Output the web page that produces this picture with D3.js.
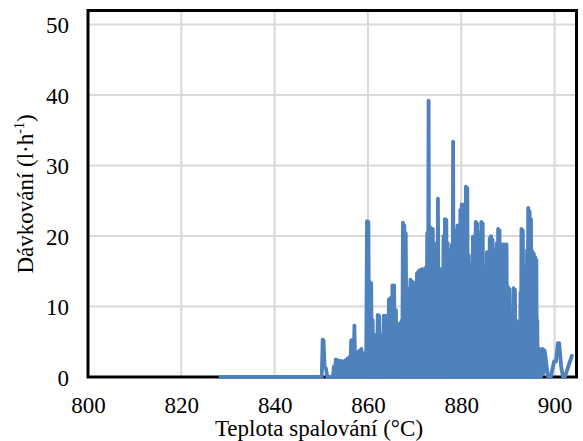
<!DOCTYPE html>
<html>
<head>
<meta charset="utf-8">
<script src="https://cdn.jsdelivr.net/npm/d3@7/dist/d3.min.js"></script>
<style>
html,body{margin:0;padding:0;background:#fff;}
svg{display:block;}
</style>
</head>
<body>
<svg id="chart" width="583" height="441"></svg>
<script>
// Tick values
const xTicks = [800, 820, 840, 860, 880, 900];
const yTicks = [0, 10, 20, 30, 40, 50];
const xTitle = "Teplota spalování (°C)";
const yTitleMain = "Dávkování (l·h";
const yTitleSup = "-1";
const yTitleEnd = ")";

// Series: combustion temperature (°C) and dosing (l·h-1), in recorded order
const temperature = [
  828.4, 850.1, 850.3, 850.5, 850.7, 851.0, 851.3, 852.5,
  852.7, 852.9, 853.1, 853.3, 853.5, 853.7, 853.9, 854.1,
  854.3, 854.5, 854.7, 854.9, 855.2, 855.35, 855.6, 855.8,
  856.0, 856.2, 856.4, 856.55, 856.7, 856.9, 857.1, 857.3,
  857.5, 857.7, 857.9, 858.1, 858.3, 858.45, 858.6, 858.8,
  859.0, 859.2, 859.4, 859.6, 859.8, 859.95, 860.1, 860.25,
  860.4, 860.55, 860.7, 860.85, 861.0, 861.2, 861.4, 861.6,
  861.8, 861.95, 862.1, 862.25, 862.4, 862.6, 862.8, 862.95,
  863.1, 863.25, 863.4, 863.55, 863.7, 863.9, 864.1, 864.3,
  864.5, 864.65, 864.8, 865.0, 865.25, 865.4, 865.6, 865.8,
  866.0, 866.2, 866.4, 866.6, 866.8, 867.0, 867.2, 867.35,
  867.5, 867.65, 867.8, 867.95, 868.1, 868.3, 868.5, 868.65,
  868.8, 868.95, 869.1, 869.25, 869.4, 869.6, 869.8, 869.95,
  870.1, 870.3, 870.5, 870.65, 870.8, 871.0, 871.2, 871.4,
  871.6, 871.8, 872.0, 872.2, 872.4, 872.55, 872.7, 872.85,
  873.0, 873.15, 873.3, 873.45, 873.6, 873.75, 873.9, 874.1,
  874.4, 874.55, 874.7, 874.85, 875.0, 875.2, 875.5, 875.65,
  875.8, 876.0, 876.2, 876.35, 876.5, 876.65, 876.8, 876.95,
  877.1, 877.25, 877.4, 877.55, 877.7, 877.85, 878.0, 878.1,
  878.25, 878.4, 878.6, 878.75, 878.9, 879.05, 879.2, 879.35,
  879.5, 879.65, 879.8, 879.95, 880.1, 880.25, 880.4, 880.55,
  880.7, 880.85, 881.0, 881.15, 881.3, 881.45, 881.6, 881.75,
  881.9, 882.05, 882.2, 882.35, 882.5, 882.65, 882.8, 882.95,
  883.1, 883.25, 883.4, 883.55, 883.7, 883.85, 884.0, 884.15,
  884.3, 884.45, 884.6, 884.75, 884.9, 885.05, 885.2, 885.35,
  885.5, 885.65, 885.8, 885.95, 886.1, 886.25, 886.4, 886.55,
  886.7, 886.85, 887.0, 887.15, 887.3, 887.45, 887.6, 887.75,
  887.9, 888.05, 888.2, 888.35, 888.5, 888.65, 888.8, 888.95,
  889.1, 889.25, 889.4, 889.55, 889.7, 889.85, 890.0, 890.15,
  890.3, 890.45, 890.6, 890.75, 890.9, 891.05, 891.2, 891.35,
  891.5, 891.65, 891.8, 891.95, 892.1, 892.25, 892.4, 892.55,
  892.7, 892.8, 892.9, 893.05, 893.2, 893.35, 893.5, 893.65,
  893.8, 893.95, 894.1, 894.2, 894.35, 894.5, 894.65, 894.8,
  894.95, 895.1, 895.25, 895.4, 895.55, 895.7, 895.85, 896.0,
  896.1, 896.2, 896.3, 896.4, 896.5, 896.7, 896.9, 897.1,
  897.4, 897.6, 897.8, 898.0, 898.3, 898.6, 899.2, 899.5,
  899.9, 900.3, 900.7, 901.0, 901.4, 901.8, 902.2, 902.6,
  903.1, 903.7
];
const dosing = [
  0, 0, 5.3, 5.2, 1.5, 1.2, 0, 0,
  1.5, 0, 2.5, 0, 2.4, 0, 2.3, 0,
  2.3, 0, 2.2, 0, 2.4, 0, 2.6, 0,
  2.8, 0, 5.2, 0, 5.3, 0, 7.3, 0,
  3.2, 0, 3.6, 0, 3.8, 0, 4.0, 0,
  3.4, 0, 3.0, 0, 22.1, 0, 22.0, 0,
  13.5, 0, 13.3, 0, 8.1, 0, 5.5, 0,
  6.0, 0, 8.8, 0, 8.7, 0, 5.5, 0,
  6.0, 0, 8.7, 0, 8.7, 0, 6.5, 0,
  11.0, 0, 11.2, 0, 13.0, 0, 13.0, 0,
  9.5, 0, 7.4, 0, 7.6, 0, 8.0, 0,
  21.9, 0, 21.5, 0, 20.4, 0, 12.5, 0,
  12.0, 0, 13.8, 0, 13.6, 0, 13.4, 0,
  13.0, 0, 14.7, 0, 15.0, 0, 15.2, 0,
  15.3, 0, 15.3, 0, 15.5, 0, 20.4, 0,
  39.2, 0, 21.3, 0, 21.0, 0, 21.0, 0,
  15.3, 0, 19.0, 0, 25.3, 0, 15.3, 0,
  14.8, 0, 20.0, 0, 22.4, 0, 22.3, 0,
  19.0, 0, 18.0, 0, 15.0, 0, 18.8, 0,
  33.4, 0, 20.8, 0, 20.0, 0, 21.5, 0,
  21.3, 0, 23.7, 0, 24.5, 0, 24.4, 0,
  24.5, 0, 27.0, 0, 26.8, 0, 17.3, 0,
  16.0, 0, 15.3, 0, 19.9, 0, 20.0, 0,
  22.0, 0, 21.8, 0, 18.0, 0, 20.5, 0,
  22.0, 0, 21.8, 0, 15.7, 0, 15.5, 0,
  17.7, 0, 17.5, 0, 19.7, 0, 20.0, 0,
  19.5, 0, 18.0, 0, 17.5, 0, 19.0, 0,
  21.0, 0, 20.8, 0, 18.5, 0, 18.8, 0,
  18.8, 0, 18.6, 0, 18.8, 0, 12.8, 0,
  12.5, 0, 7.6, 0, 7.8, 0, 12.6, 0,
  12.4, 0, 8.0, 0, 7.8, 0, 7.6, 0,
  12.0, 0, 21.0, 0, 20.8, 0, 15.6, 0,
  15.5, 0, 18.0, 0, 24.0, 0, 23.5, 0,
  22.4, 0, 17.8, 0, 17.5, 0, 17.0, 0,
  16.6, 0, 8.0, 0, 4.1, 0, 3.9, 0,
  4.0, 0.5, 3.8, 3.2, 1.5, 0, 0, 1.0,
  2.2, 2.2, 4.8, 4.8, 1.5, 0, 0, 0.8,
  1.8, 3.0
];

const FONT = "'Liberation Serif', 'Times New Roman', serif";
const svg = d3.select("#chart");
const plot = {left: 88, right: 576.5, top: 10.5, bottom: 377};

const x = d3.scaleLinear().domain([800, 904.7]).range([plot.left, plot.right]);
const y = d3.scaleLinear().domain([0, 52]).range([plot.bottom, plot.top]);

// Gridlines
const grid = svg.append("g");
grid.selectAll("line.vx").data(xTicks.filter(d => d !== 800)).enter().append("line")
  .attr("x1", d => x(d)).attr("x2", d => x(d))
  .attr("y1", plot.top).attr("y2", plot.bottom)
  .attr("stroke", "#d9d9d9").attr("stroke-width", 2);
grid.selectAll("line.hy").data(yTicks.filter(d => d !== 0)).enter().append("line")
  .attr("x1", plot.left).attr("x2", plot.right)
  .attr("y1", d => y(d)).attr("y2", d => y(d))
  .attr("stroke", "#d9d9d9").attr("stroke-width", 2);

// Frame
svg.append("rect")
  .attr("x", plot.left).attr("y", plot.top)
  .attr("width", plot.right - plot.left).attr("height", plot.bottom - plot.top)
  .attr("fill", "none").attr("stroke", "#000").attr("stroke-width", 3);

// Axes (labels only, via d3 axis)
const xAxis = d3.axisBottom(x).tickValues(xTicks).tickSize(0).tickPadding(0).tickFormat(d3.format("d"));
const gx = svg.append("g").attr("transform", `translate(0,${plot.bottom})`).call(xAxis);
gx.attr("font-family", null).attr("font-size", null);
gx.select(".domain").remove();
gx.selectAll("text").style("font-family", FONT).style("font-size", "23px").attr("fill", "#000")
  .attr("dy", null).attr("y", 36);

const yAxis = d3.axisLeft(y).tickValues(yTicks).tickSize(0).tickPadding(0).tickFormat(d3.format("d"));
const gy = svg.append("g").attr("transform", `translate(${plot.left},0)`).call(yAxis);
gy.attr("font-family", null).attr("font-size", null);
gy.select(".domain").remove();
gy.selectAll("text").style("font-family", FONT).style("font-size", "23px").attr("fill", "#000")
  .attr("x", -19).attr("dy", "0.35em");

// Series line
const data = temperature.map((t, i) => ({t, v: dosing[i]}));
const line = d3.line().x(d => x(d.t)).y(d => y(d.v));
svg.append("path").datum(data)
  .attr("d", line)
  .attr("fill", "none")
  .attr("stroke", "#4f81bd")
  .attr("stroke-width", 3.8)
  .attr("stroke-linejoin", "round")
  .attr("stroke-linecap", "round");

// Axis titles
svg.append("text")
  .attr("x", 319).attr("y", 436)
  .attr("text-anchor", "middle")
  .style("font-family", FONT).style("font-size", "23px")
  .text(xTitle);

const yt = svg.append("text")
  .attr("transform", "translate(33,194) rotate(-90)")
  .attr("text-anchor", "middle")
  .style("font-family", FONT).style("font-size", "23px");
yt.append("tspan").text(yTitleMain);
yt.append("tspan").style("font-size", "14px").attr("dy", -9).text(yTitleSup);
yt.append("tspan").attr("dy", 9).text(yTitleEnd);
</script>
</body>
</html>
